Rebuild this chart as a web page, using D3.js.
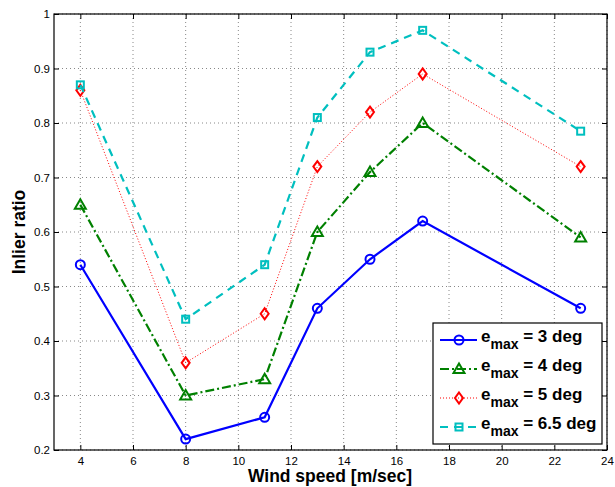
<!DOCTYPE html>
<html><head><meta charset="utf-8">
<script src="https://cdn.jsdelivr.net/npm/d3@7"></script>
<style>body{margin:0;background:#fff}svg{display:block}text{font-family:"Liberation Sans",Arial,sans-serif}</style>
</head><body><svg id="c" width="615" height="487"></svg>
<script>
const windSpeed = [4, 8, 11, 13, 15, 17, 23];
const e3 = [0.54, 0.22, 0.26, 0.46, 0.55, 0.62, 0.46];
const e4 = [0.65, 0.30, 0.33, 0.60, 0.71, 0.80, 0.59];
const e5 = [0.86, 0.36, 0.45, 0.72, 0.82, 0.89, 0.72];
const e65 = [0.87, 0.44, 0.54, 0.81, 0.93, 0.97, 0.785];
const seriesNames = ["3", "4", "5", "6.5"];
const xTicks = [4, 6, 8, 10, 12, 14, 16, 18, 20, 22, 24];
const yTicks = [0.2, 0.3, 0.4, 0.5, 0.6, 0.7, 0.8, 0.9, 1];

const svg = d3.select("#c");
const L = 54, R = 607, T = 14, B = 450;
const x = d3.scaleLinear().domain([3, 24]).range([L, R]);
const y = d3.scaleLinear().domain([0.2, 1]).range([B, T]);

// grid
const g = svg.append("g");
xTicks.forEach(t => g.append("line").attr("x1", x(t)).attr("x2", x(t)).attr("y1", T).attr("y2", B)
  .attr("stroke", "#888").attr("stroke-width", 1).attr("stroke-dasharray", "1,3"));
yTicks.forEach(t => g.append("line").attr("x1", L).attr("x2", R).attr("y1", y(t)).attr("y2", y(t))
  .attr("stroke", "#888").attr("stroke-width", 1).attr("stroke-dasharray", "1,3"));

// axes
const fmt = d => d === 1 ? "1" : d3.format(".1f")(d);
const axB = svg.append("g").attr("transform", `translate(0,${B})`)
  .call(d3.axisBottom(x).tickValues(xTicks).tickSizeInner(-5).tickSizeOuter(0).tickPadding(7));
const axT = svg.append("g").attr("transform", `translate(0,${T})`)
  .call(d3.axisTop(x).tickValues(xTicks).tickSizeInner(-5).tickSizeOuter(0).tickFormat(""));
const axL = svg.append("g").attr("transform", `translate(${L},0)`)
  .call(d3.axisLeft(y).tickValues(yTicks).tickSizeInner(-5).tickSizeOuter(0).tickPadding(4).tickFormat(fmt));
const axR = svg.append("g").attr("transform", `translate(${R},0)`)
  .call(d3.axisRight(y).tickValues(yTicks).tickSizeInner(-5).tickSizeOuter(0).tickFormat(""));
[axB, axT, axL, axR].forEach(a => {
  a.select(".domain").remove();
  a.selectAll("line").attr("stroke", "#000").attr("stroke-width", 1);
  a.selectAll("text").attr("font-size", 11.5).attr("fill", "#000");
});
svg.append("rect").attr("x", L).attr("y", T).attr("width", R - L).attr("height", B - T)
  .attr("fill", "none").attr("stroke", "#000").attr("stroke-width", 1.2);

// labels
svg.append("text").attr("x", 330).attr("y", 482).attr("text-anchor", "middle")
  .attr("font-size", 17.5).attr("font-weight", "bold").text("Wind speed [m/sec]");
svg.append("text").attr("transform", `translate(25,232) rotate(-90)`).attr("text-anchor", "middle")
  .attr("font-size", 17.5).attr("font-weight", "bold").text("Inlier ratio");

const series = [
  {vals: e3, color: "#0000ff", dash: null, marker: "circle"},
  {vals: e4, color: "#008000", dash: "9,3,2,3", marker: "triangle"},
  {vals: e5, color: "#ff0000", dash: "1,2", marker: "diamond", lw: 1},
  {vals: e65, color: "#00bfbf", dash: "8,6", marker: "square"}
];
const line = d3.line().x((d, i) => x(windSpeed[i])).y(d => y(d));

function drawMarker(sel, type, cx, cy, color) {
  if (type === "circle") sel.append("circle").attr("cx", cx).attr("cy", cy).attr("r", 4.5)
    .attr("fill", "none").attr("stroke", color).attr("stroke-width", 2);
  else if (type === "triangle") sel.append("path")
    .attr("d", `M${cx},${cy - 5.5}L${cx + 5.5},${cy + 4}L${cx - 5.5},${cy + 4}Z`)
    .attr("fill", "none").attr("stroke", color).attr("stroke-width", 2);
  else if (type === "diamond") sel.append("path")
    .attr("d", `M${cx},${cy - 5.5}L${cx + 4},${cy}L${cx},${cy + 5.5}L${cx - 4},${cy}Z`)
    .attr("fill", "none").attr("stroke", color).attr("stroke-width", 2);
  else sel.append("rect").attr("x", cx - 3.5).attr("y", cy - 3.5).attr("width", 7).attr("height", 7)
    .attr("fill", "none").attr("stroke", color).attr("stroke-width", 2);
}

series.forEach(s => {
  svg.append("path").datum(s.vals).attr("d", line).attr("fill", "none")
    .attr("stroke", s.color).attr("stroke-width", s.lw || 2.2).attr("stroke-dasharray", s.dash);
  const mg = svg.append("g");
  s.vals.forEach((v, i) => drawMarker(mg, s.marker, x(windSpeed[i]), y(v), s.color));
});

// legend
const lx = 433, ly = 323, lw = 169, lh = 121;
const lg = svg.append("g");
lg.append("rect").attr("x", lx).attr("y", ly).attr("width", lw).attr("height", lh)
  .attr("fill", "#fff").attr("stroke", "#000").attr("stroke-width", 1.2);
series.forEach((s, i) => {
  const cy = ly + 17 + i * 29;
  lg.append("line").attr("x1", lx + 7).attr("x2", lx + 44).attr("y1", cy).attr("y2", cy)
    .attr("stroke", s.color).attr("stroke-width", s.lw || 2.2).attr("stroke-dasharray", s.dash);
  drawMarker(lg, s.marker, lx + 26, cy, s.color);
  const t = lg.append("text").attr("x", lx + 48).attr("y", cy + 2).attr("font-size", 17).attr("font-weight", "bold");
  t.append("tspan").text("e");
  t.append("tspan").attr("dy", 7).attr("font-size", 14).text("max");
  t.append("tspan").attr("dy", -7).text(" = " + seriesNames[i] + " deg");
});
</script></body></html>
